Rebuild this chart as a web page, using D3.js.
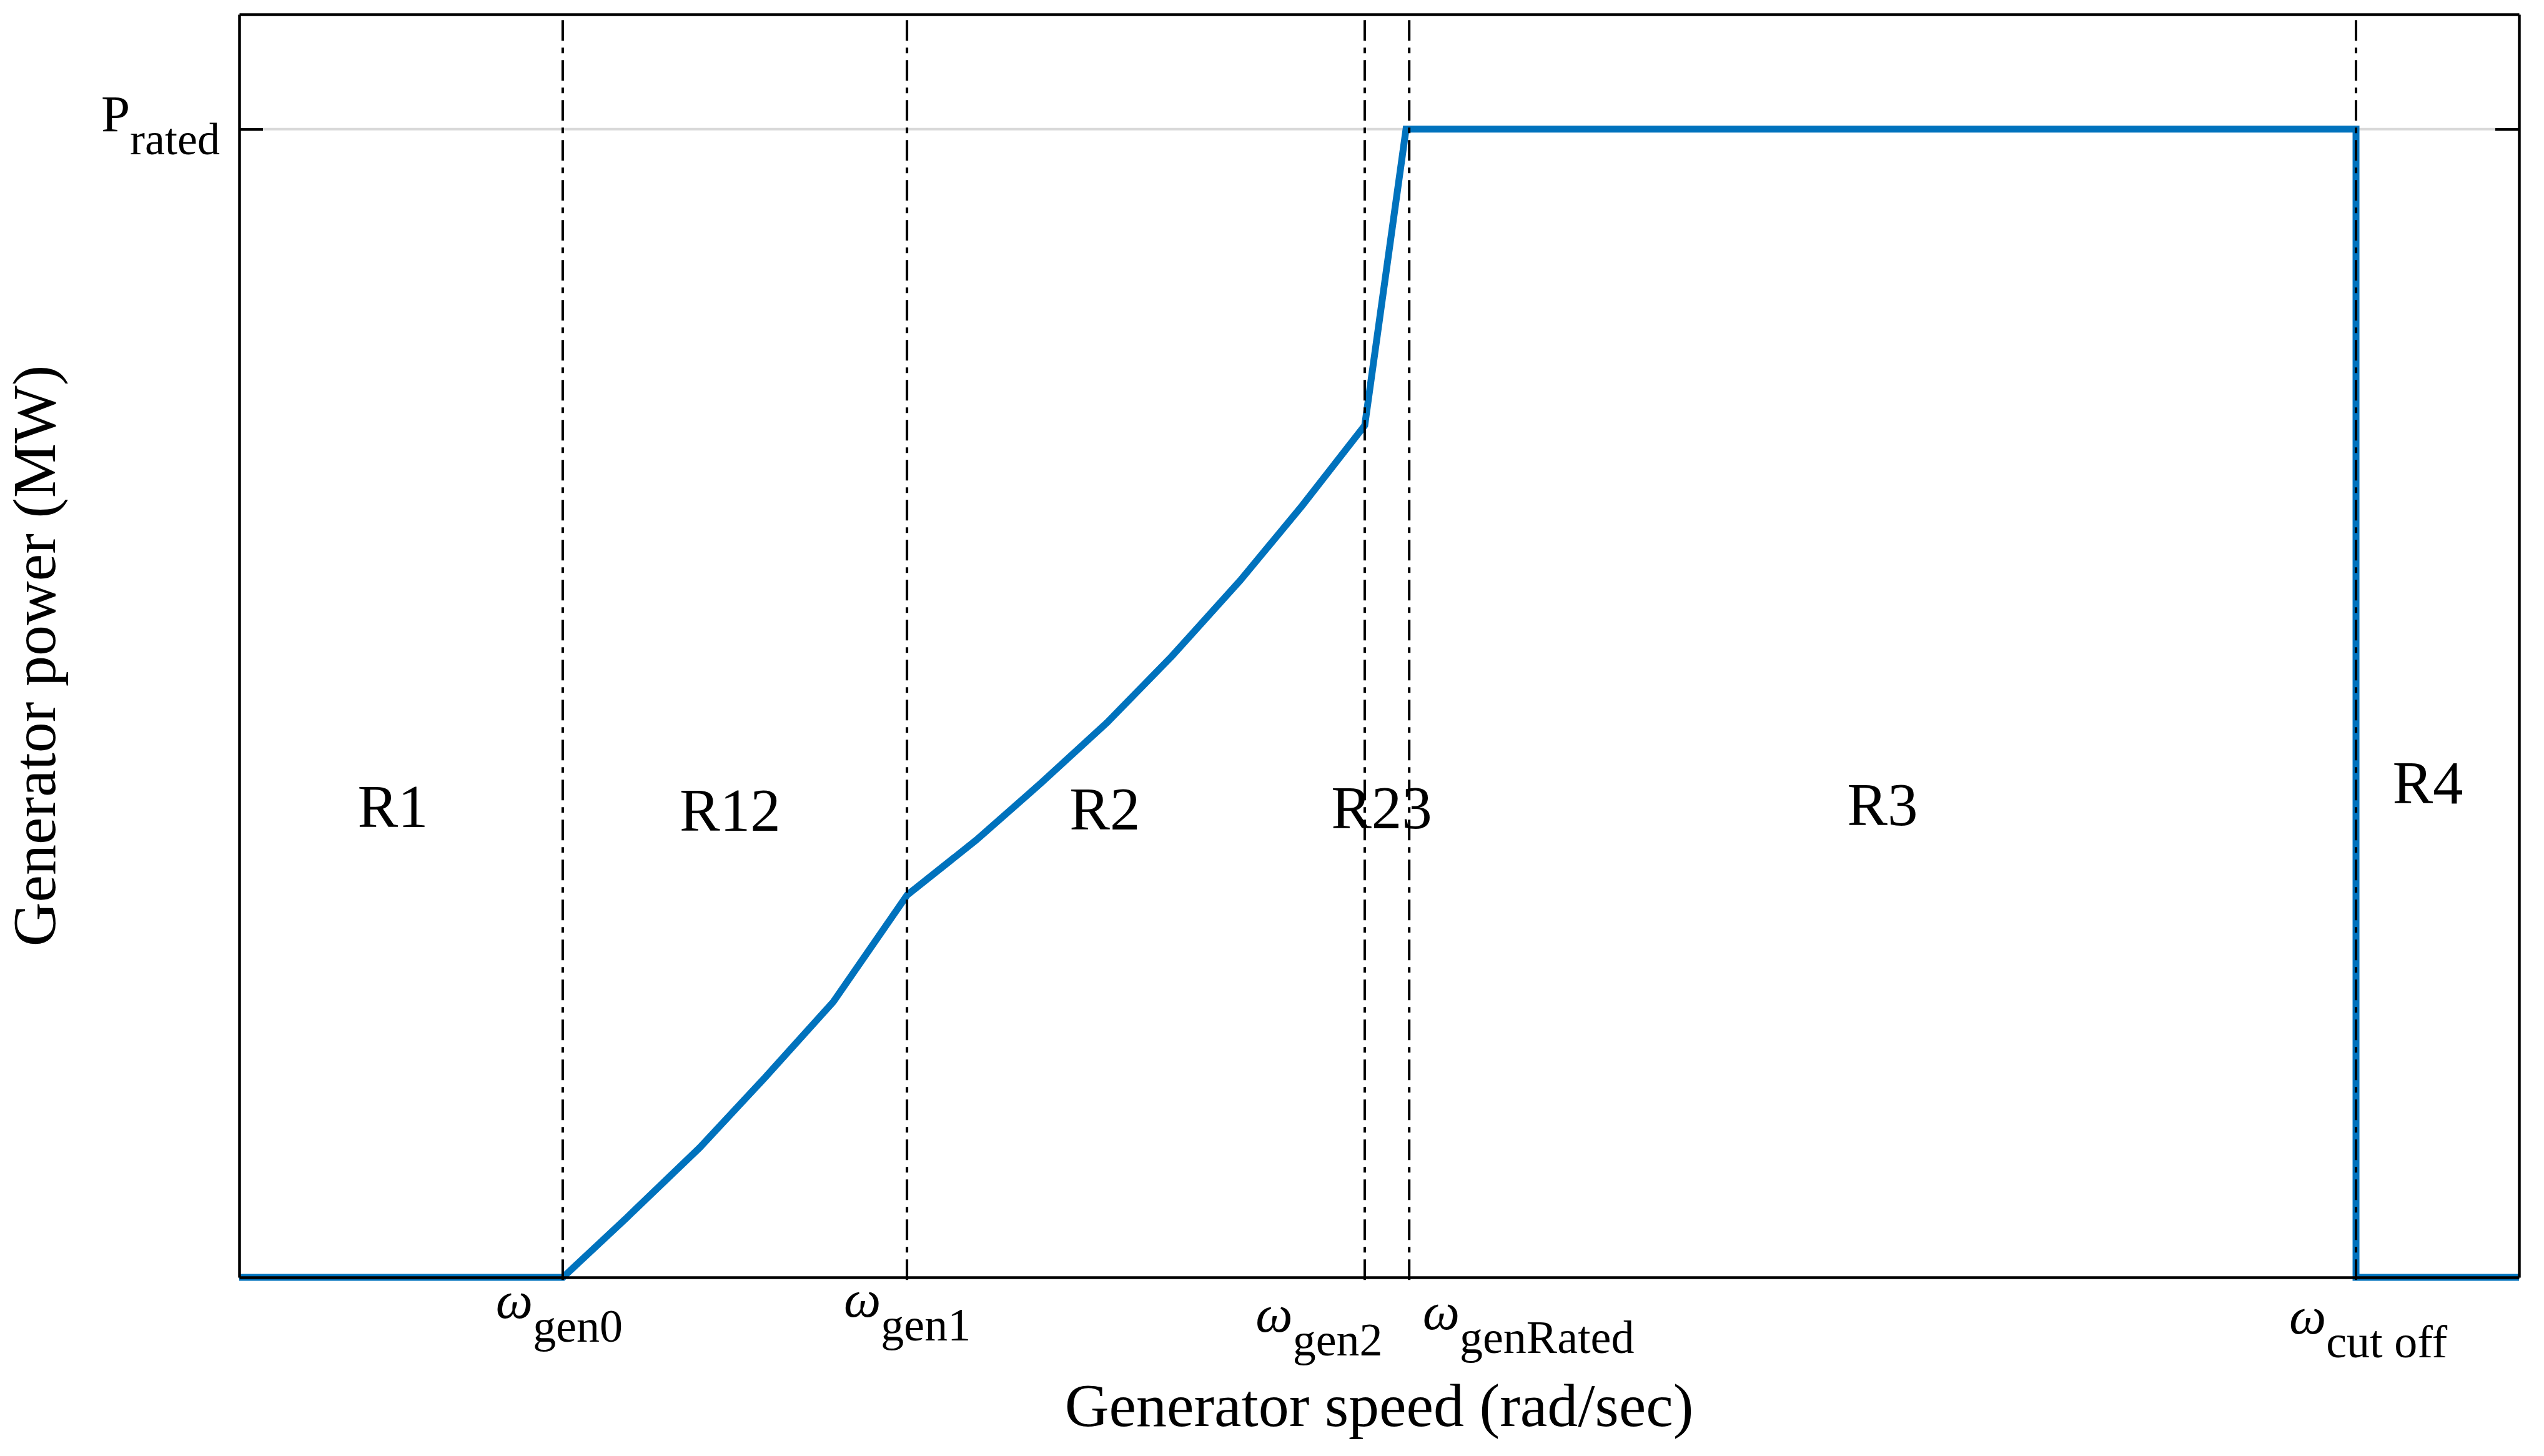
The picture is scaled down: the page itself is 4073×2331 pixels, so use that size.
<!DOCTYPE html>
<html>
<head>
<meta charset="utf-8">
<script src="https://cdn.jsdelivr.net/npm/d3@7"></script>
<style>
  body { margin: 0; background: #fff; }
  text { font-family: "Liberation Serif", "Times New Roman", serif; fill: #000; }
</style>
</head>
<body>
<div id="chart"></div>
<script>
// generator power curve (speed in arbitrary units, power as fraction of rated)
var speedPts = [0, 14.2, 17.0, 20.2, 23.06, 26.06, 29.3, 32.34, 35.2, 38.06, 40.91, 43.91, 46.62,
    49.37, 51.18, 92.85, 92.85, 100];
var powerPts = [0, 0, 0.052, 0.113, 0.174, 0.240, 0.333, 0.381, 0.431, 0.483, 0.541, 0.607, 0.672,
    0.742, 1.0, 1.0, 0, 0];

// x ticks: omega sub-labels
var speedTickNames = ["gen0", "gen1", "gen2", "genRated", "cut off"];
var speedTickValues = [14.19, 29.29, 49.37, 51.32, 92.85];

// y ticks
var powerTickNames = ["rated"];
var powerTickValues = [1];

// region annotations (data coords)
var regionNames = ["R1", "R12", "R2", "R23", "R3", "R4"];
var regionX = [6.74, 21.53, 37.97, 50.11, 72.08, 96.0];
var regionY = [0.392, 0.389, 0.390, 0.391, 0.394, 0.413];

var width = 4073;
var height = 2331;
var margin = {top: 23, right: 40, bottom: 286, left: 383};

var svg = d3.select("#chart").append("svg")
    .attr("width", width)
    .attr("height", height);

var x = d3.scaleLinear().domain([0, 100]).range([margin.left, width - margin.right]);
var y = d3.scaleLinear().domain([0, 1.1]).range([height - margin.bottom, margin.top]);

// grid line at rated power
svg.append("g").selectAll("line")
    .data(powerTickValues)
    .enter()
    .append("line")
    .attr("x1", x(0)).attr("x2", x(100))
    .attr("y1", function(d){ return y(d); })
    .attr("y2", function(d){ return y(d); })
    .attr("stroke", "#d9d9d9")
    .attr("stroke-width", 4);

// power curve
var line = d3.line()
    .x(function(d, i){ return x(speedPts[i]); })
    .y(function(d, i){ return y(powerPts[i]); });

svg.append("path")
    .datum(speedPts)
    .attr("fill", "none")
    .attr("stroke", "#0072BD")
    .attr("stroke-width", 11)
    .attr("stroke-linejoin", "miter")
    .attr("d", line);

// dash-dot region boundaries
svg.append("g").selectAll("line")
    .data(speedTickValues)
    .enter()
    .append("line")
    .attr("x1", function(d){ return x(d); })
    .attr("x2", function(d){ return x(d); })
    .attr("y1", y(1.095))
    .attr("y2", y(-0.006))
    .attr("stroke", "#000")
    .attr("stroke-width", 4)
    .attr("stroke-dasharray", "33,11,9,11");

// axes box
function styleAxis(g){
    g.select(".domain").attr("stroke", "#000").attr("stroke-width", 4.5);
    g.selectAll(".tick line").attr("stroke", "#000").attr("stroke-width", 4.5);
    g.selectAll(".tick text").remove();
}

var xBottom = svg.append("g")
    .attr("transform", "translate(0," + y(0) + ")")
    .call(d3.axisBottom(x).tickValues(speedTickValues).tickSize(0).tickFormat(""))
    .call(styleAxis);

svg.append("g")
    .attr("transform", "translate(0," + y(1.1) + ")")
    .call(d3.axisTop(x).tickValues([]).tickSizeOuter(0))
    .call(styleAxis);

var yLeft = svg.append("g")
    .attr("transform", "translate(" + x(0) + ",0)")
    .call(d3.axisLeft(y).tickValues(powerTickValues).tickSizeInner(-38).tickSizeOuter(0).tickFormat(""))
    .call(styleAxis);

svg.append("g")
    .attr("transform", "translate(" + x(100) + ",0)")
    .call(d3.axisRight(y).tickValues(powerTickValues).tickSizeInner(-38).tickSizeOuter(0).tickFormat(""))
    .call(styleAxis);

// omega tick labels
var tickAnchor = ["middle", "middle", "end", "start", "middle"];
var tickDx = [-6, 0, 28, 21, 19];
var tickDy = [65, 63, 87, 83, 90];

xBottom.selectAll(".tick").each(function(d, i){
    var t = d3.select(this).append("text")
        .attr("x", tickDx[i])
        .attr("y", tickDy[i])
        .attr("text-anchor", tickAnchor[i])
        .attr("fill", "#000");
    t.append("tspan")
        .style("font-style", "italic")
        .style("font-size", "84px")
        .text("\u03C9");
    t.append("tspan")
        .attr("dy", 38)
        .style("font-size", "74px")
        .text(speedTickNames[i]);
});

yLeft.selectAll(".tick").each(function(d, i){
    var t = d3.select(this).append("text")
        .attr("x", -31)
        .attr("y", 3)
        .attr("text-anchor", "end")
        .attr("fill", "#000");
    t.append("tspan")
        .style("font-size", "83px")
        .text("P");
    t.append("tspan")
        .attr("dy", 37)
        .style("font-size", "72px")
        .text(powerTickNames[i]);
});

// region labels
svg.append("g").selectAll("text")
    .data(regionNames)
    .enter()
    .append("text")
    .attr("x", function(d, i){ return x(regionX[i]); })
    .attr("y", function(d, i){ return y(regionY[i]); })
    .attr("text-anchor", "middle")
    .style("font-size", "97px")
    .text(function(d){ return d; });

// axis titles
svg.append("text")
    .attr("x", (x(0) + x(100)) / 2)
    .attr("y", 2283)
    .attr("text-anchor", "middle")
    .style("font-size", "98px")
    .text("Generator speed (rad/sec)");

svg.append("text")
    .attr("transform", "translate(88," + 1050 + ") rotate(-90)")
    .attr("text-anchor", "middle")
    .style("font-size", "98px")
    .text("Generator power (MW)");
</script>
</body>
</html>
